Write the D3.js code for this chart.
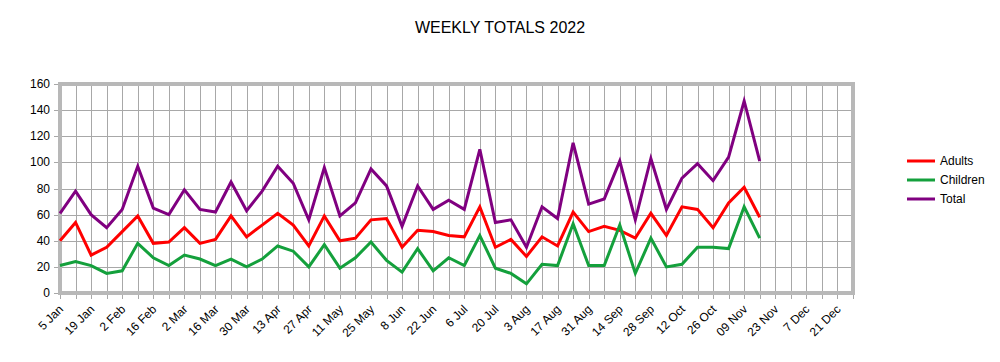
<!DOCTYPE html>
<html>
<head>
<meta charset="utf-8">
<script src="https://cdn.jsdelivr.net/npm/d3@7"></script>
<style>
  body { margin: 0; background: #fff; }
  text { font-family: "Liberation Sans", Arial, sans-serif; fill: #000; }
</style>
</head>
<body>
<svg id="chart"></svg>
<script>
// weeks of 2022 (every Wednesday)
var weeks = ["5 Jan","12 Jan","19 Jan","26 Jan","2 Feb","9 Feb","16 Feb","23 Feb",
  "2 Mar","9 Mar","16 Mar","23 Mar","30 Mar","6 Apr","13 Apr","20 Apr","27 Apr",
  "4 May","11 May","18 May","25 May","1 Jun","8 Jun","15 Jun","22 Jun","29 Jun",
  "6 Jul","13 Jul","20 Jul","27 Jul","3 Aug","10 Aug","17 Aug","24 Aug","31 Aug",
  "7 Sep","14 Sep","21 Sep","28 Sep","5 Oct","12 Oct","19 Oct","26 Oct",
  "2 Nov","09 Nov","16 Nov","23 Nov","30 Nov","7 Dec","14 Dec","21 Dec","28 Dec"];

// labels shown on the axis (every other week)
var tickLabels = ["5 Jan","19 Jan","2 Feb","16 Feb","2 Mar","16 Mar","30 Mar","13 Apr",
  "27 Apr","11 May","25 May","8 Jun","22 Jun","6 Jul","20 Jul","3 Aug","17 Aug",
  "31 Aug","14 Sep","28 Sep","12 Oct","26 Oct","09 Nov","23 Nov","7 Dec","21 Dec"];

var adults = [40,54,29,35,47,59,38,39,50,38,41,59,43,52,61,52,36,59,40,42,56,57,35,48,
  47,44,43,66,35,41,28,43,36,62,47,51,48,42,61,44,66,64,50,69,81,58];
var children = [21,24,21,15,17,38,27,21,29,26,21,26,20,26,36,32,20,37,19,27,39,25,16,34,
  17,27,21,44,19,15,7,22,21,53,21,21,52,15,42,20,22,35,35,34,66,42];
var total = [61,78,60,50,64,97,65,60,79,64,62,85,63,78,97,84,56,96,59,69,95,82,51,82,
  64,71,64,110,54,56,35,66,57,115,68,72,101,56,103,64,88,99,86,104,147,101];

var seriesNames = ["Adults", "Children", "Total"];
var seriesColors = ["#ff0000", "#14a03c", "#800080"];
var seriesData = [adults, children, total];

var svgWidth = 1000, svgHeight = 362;
var plotLeft = 60, plotRight = 853, plotTop = 84, plotBottom = 293;

var svg = d3.select("#chart")
    .attr("width", svgWidth)
    .attr("height", svgHeight);

var x = d3.scalePoint()
    .domain(weeks)
    .range([plotLeft, plotRight]);

var y = d3.scaleLinear()
    .domain([0, 160])
    .range([plotBottom, plotTop]);

var yTicks = d3.range(0, 161, 20);

// title
svg.append("text")
    .attr("x", 500)
    .attr("y", 33)
    .attr("text-anchor", "middle")
    .style("font-size", "16px")
    .text("WEEKLY TOTALS 2022");

// grid + ticks
svg.selectAll(".hgrid")
    .data(yTicks)
    .enter()
    .append("line")
    .attr("x1", plotLeft - 6).attr("x2", plotRight)
    .attr("y1", function (d) { return Math.round(y(d)) + 0.5; })
    .attr("y2", function (d) { return Math.round(y(d)) + 0.5; })
    .attr("stroke", "#a8a8a8")
    .attr("stroke-width", 1);

svg.selectAll(".vgrid")
    .data(weeks)
    .enter()
    .append("line")
    .attr("x1", function (d) { return Math.round(x(d)) + 0.5; })
    .attr("x2", function (d) { return Math.round(x(d)) + 0.5; })
    .attr("y1", plotTop).attr("y2", plotBottom + 6)
    .attr("stroke", "#a8a8a8")
    .attr("stroke-width", 1);

// plot border
svg.append("rect")
    .attr("x", plotLeft)
    .attr("y", plotTop)
    .attr("width", plotRight - plotLeft)
    .attr("height", plotBottom - plotTop)
    .attr("fill", "none")
    .attr("stroke", "#b8b8b8")
    .attr("stroke-width", 4);

// y labels
svg.selectAll(".ylab")
    .data(yTicks)
    .enter()
    .append("text")
    .attr("x", 50)
    .attr("y", function (d) { return y(d) + 4; })
    .attr("text-anchor", "end")
    .style("font-size", "12px")
    .text(function (d) { return d; });

// x labels
svg.selectAll(".xlab")
    .data(tickLabels)
    .enter()
    .append("text")
    .attr("text-anchor", "end")
    .attr("transform", function (d) {
        return "translate(" + (x(d) + 4) + "," + 310 + ") rotate(-45)";
    })
    .style("font-size", "12px")
    .text(function (d) { return d; });

// lines
var line = d3.line()
    .x(function (d, i) { return x(weeks[i]); })
    .y(function (d) { return y(d); });

svg.selectAll(".series")
    .data(seriesData)
    .enter()
    .append("path")
    .attr("d", function (d) { return line(d); })
    .attr("fill", "none")
    .attr("stroke", function (d, i) { return seriesColors[i]; })
    .attr("stroke-width", 3)
    .attr("stroke-linejoin", "miter");

// legend
var legend = svg.selectAll(".legend")
    .data(seriesNames)
    .enter()
    .append("g")
    .attr("transform", function (d, i) { return "translate(907," + (161 + i * 19) + ")"; });

legend.append("line")
    .attr("x1", 0).attr("x2", 28)
    .attr("y1", 0).attr("y2", 0)
    .attr("stroke", function (d, i) { return seriesColors[i]; })
    .attr("stroke-width", 3);

legend.append("text")
    .attr("x", 33)
    .attr("y", 4)
    .style("font-size", "12px")
    .text(function (d) { return d; });
</script>
</body>
</html>
